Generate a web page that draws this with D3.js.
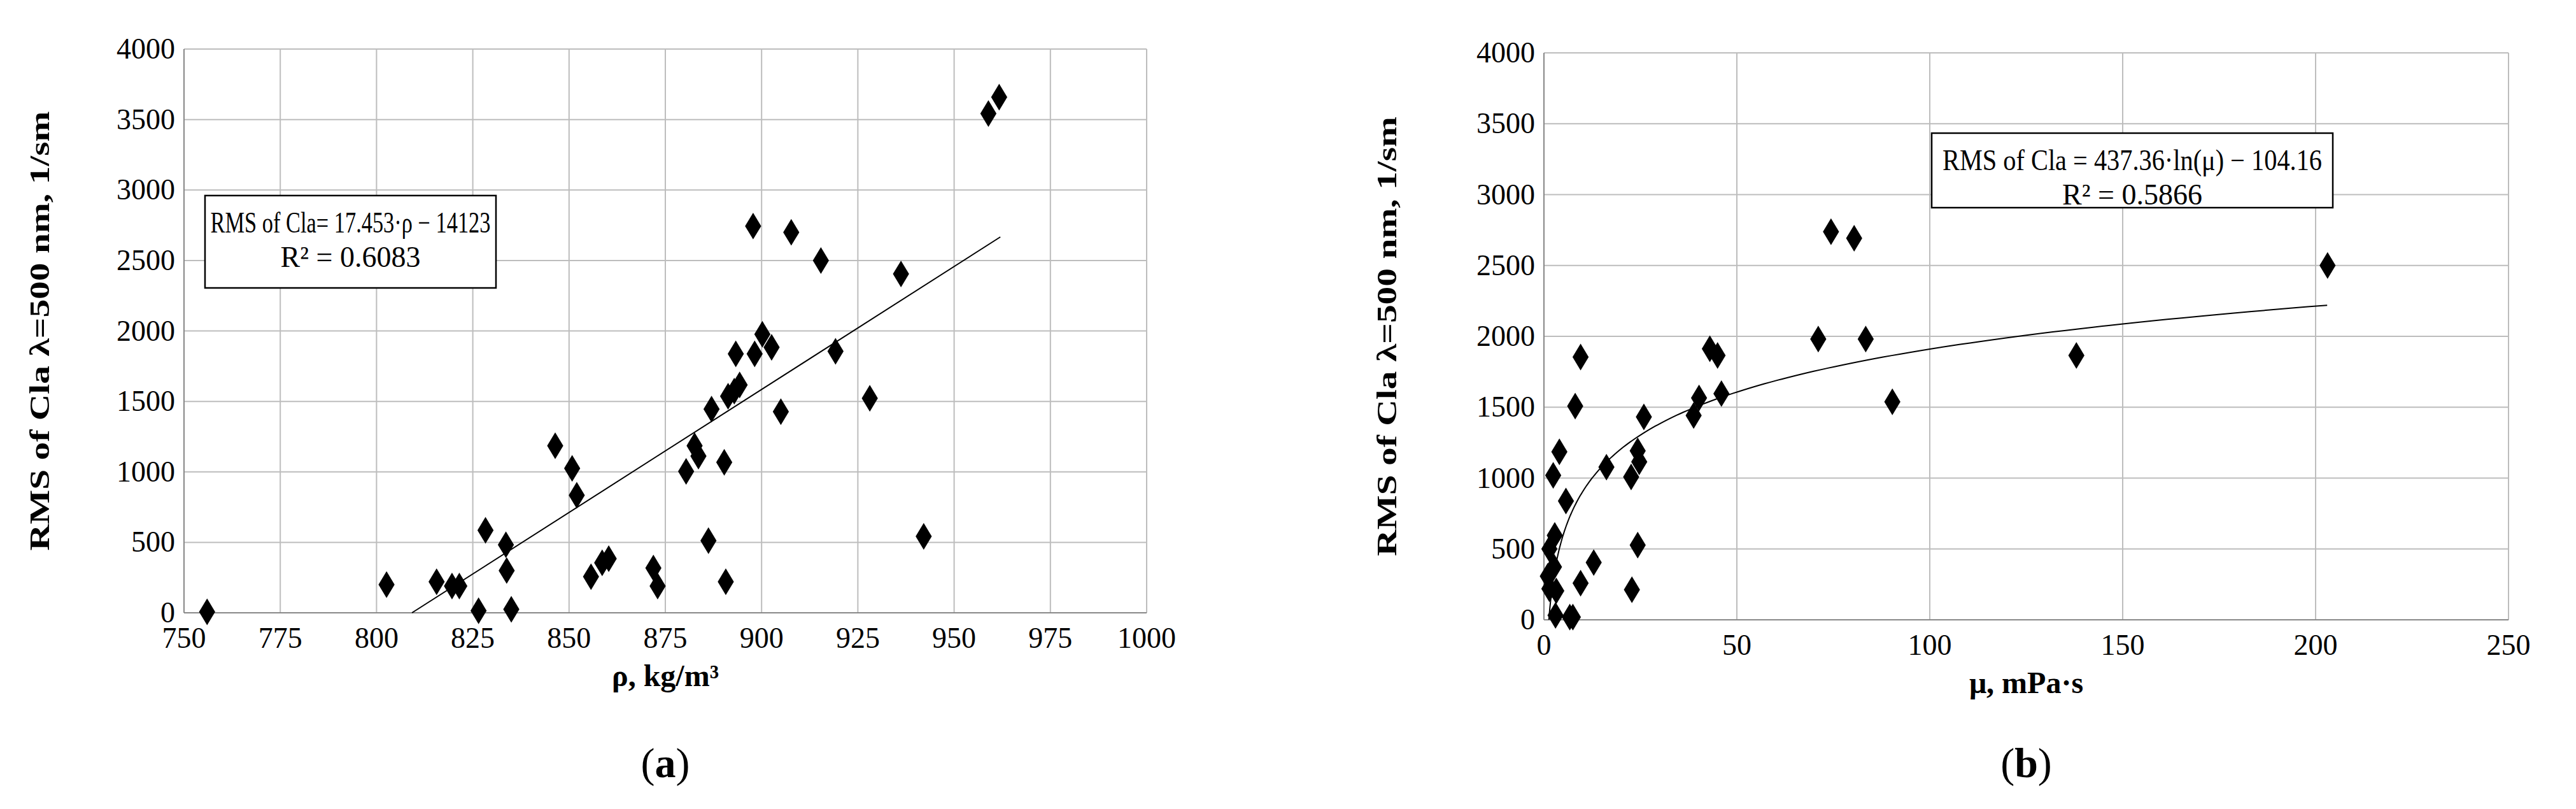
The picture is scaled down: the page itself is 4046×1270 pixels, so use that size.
<!DOCTYPE html><html><head><meta charset="utf-8">
<script src="https://cdn.jsdelivr.net/npm/d3@7"></script>
<style>body{margin:0;background:#fff}</style></head><body>
<svg id="c" width="4046" height="1270"></svg>
<script>
const rhoX=[756,802.6,815.6,819.6,821.5,826.5,828.3,833.6,833.8,835,846.4,850.8,852,855.7,858.6,860.3,871.9,873,880.4,882.6,883.6,886.2,887,890.3,890.7,891.3,892.9,894.3,893.3,897.8,898.2,900.2,902.6,905,907.7,915.4,919.2,928.1,936.2,942.1,958.9,961.7];
const rhoY=[7,200,220,190,190,15,585,483,300,25,1185,1025,834,256,355,384,318,190,1003,1185,1112,512,1445,1068,220,1537,1573,1617,1837,2744,1837,1976,1884,1427,2700,2499,1855,1522,2404,542,3542,3659];
const muX=[1.4,1,1.4,2.4,2.8,2.6,3.2,3,4,5.7,6.7,7.5,8.1,9.5,9.5,12.9,16.2,22.6,22.8,24.3,24.3,24.7,25.9,38.8,40.2,43,45,46,71.1,74.4,80.4,83.4,90.3,138,203.1];
const muY=[500,308,219,1019,596,373,204,31,1185,838,19,19,1508,1854,258,404,1077,1008,212,1192,527,1115,1431,1442,1565,1912,1865,1596,1981,2738,2692,1981,1538,1865,2500];
const yTicks=[0,500,1000,1500,2000,2500,3000,3500,4000];
const rhoTicks=[750,775,800,825,850,875,900,925,950,975,1000];
const muTicks=[0,50,100,150,200,250];
const svg=d3.select("#c");
const F="Liberation Serif, Times New Roman, serif";
function panel(o){
 const g=svg.append("g");
 const x=d3.scaleLinear().domain(o.xd).range([o.x0,o.x1]);
 const y=d3.scaleLinear().domain([0,4000]).range([o.y1,o.y0]);
 g.selectAll(".gx").data(o.xt).join("line").attr("x1",d=>x(d)).attr("x2",d=>x(d)).attr("y1",o.y0).attr("y2",o.y1).attr("stroke","#bdbdbd").attr("stroke-width",2);
 g.selectAll(".gy").data(yTicks).join("line").attr("x1",o.x0).attr("x2",o.x1).attr("y1",d=>y(d)).attr("y2",d=>y(d)).attr("stroke","#bdbdbd").attr("stroke-width",2);
 g.append("line").attr("x1",o.x0).attr("x2",o.x0).attr("y1",o.y0).attr("y2",o.y1).attr("stroke","#888").attr("stroke-width",2);
 g.append("line").attr("x1",o.x0).attr("x2",o.x1).attr("y1",o.y1).attr("y2",o.y1).attr("stroke","#888").attr("stroke-width",2);
 g.selectAll(".tx").data(o.xt).join("text").attr("x",d=>x(d)).attr("y",o.y1+55).attr("text-anchor","middle").attr("font-family",F).attr("font-size",46).text(d=>d);
 g.selectAll(".ty").data(yTicks).join("text").attr("x",o.x0-14).attr("y",d=>y(d)+15).attr("text-anchor","end").attr("font-family",F).attr("font-size",46).text(d=>d);
 g.append("path").attr("d",d3.line().x(d=>x(d[0])).y(d=>y(d[1]))(o.curve)).attr("fill","none").attr("stroke","#000").attr("stroke-width",2);
 const sym=d3.symbol().type(d3.symbolDiamond).size(420);
 g.selectAll(".p").data(o.xs.map((v,i)=>[v,o.ys[i]])).join("path").attr("d",sym).attr("transform",d=>`translate(${x(d[0])},${y(d[1])}) scale(1.15,1.1)`).attr("fill","#000");
 g.append("text").attr("x",(o.x0+o.x1)/2).attr("y",o.y1+115).attr("text-anchor","middle").attr("font-family",F).attr("font-weight","bold").attr("font-size",48).text(o.xl);
 g.append("text").attr("transform",`translate(${o.tx},${(o.y0+o.y1)/2}) rotate(-90)`).attr("text-anchor","middle").attr("font-family",F).attr("font-weight","bold").attr("font-size",44).attr("textLength",690).attr("lengthAdjust","spacingAndGlyphs").text("RMS of Cla  λ=500 nm, 1/sm");
 g.append("rect").attr("x",o.bx[0]).attr("y",o.bx[1]).attr("width",o.bx[2]).attr("height",o.bx[3]).attr("fill","#fff").attr("stroke","#000").attr("stroke-width",2.5);
 g.append("text").attr("x",o.bx[0]+o.bx[2]/2).attr("y",o.bx[1]+58).attr("text-anchor","middle").attr("font-family",F).attr("font-size",46).attr("textLength",o.tl).attr("lengthAdjust","spacingAndGlyphs").text(o.eq);
 g.append("text").attr("x",o.bx[0]+o.bx[2]/2).attr("y",o.bx[1]+112).attr("text-anchor","middle").attr("font-family",F).attr("font-size",46).text(o.r2);
 g.append("text").attr("x",(o.x0+o.x1)/2).attr("y",1220).attr("text-anchor","middle").attr("font-family",F).attr("font-size",66).html(o.lab);
}
const linCurve=[809.2,962].map(v=>[v,17.453*v-14123]);
const logCurve=d3.range(0,201).map(i=>{const v=1.27*Math.pow(203/1.27,i/200);return [v,437.36*Math.log(v)-104.16];});
panel({xd:[750,1000],xt:rhoTicks,x0:289,x1:1801,y0:77,y1:962,xs:rhoX,ys:rhoY,curve:linCurve,xl:"ρ, kg/m³",bx:[322,307,457,145],tl:440,tx:77,eq:"RMS of Cla= 17.453·ρ  − 14123",r2:"R² = 0.6083",lab:"(<tspan font-weight='bold'>a</tspan>)"});
panel({xd:[0,250],xt:muTicks,x0:2425,x1:3940,y0:83,y1:973,xs:muX,ys:muY,curve:logCurve,xl:"μ, mPa·s",bx:[3034,209,630,117],tl:596,tx:2193,eq:"RMS of Cla = 437.36·ln(μ)  − 104.16",r2:"R² = 0.5866",lab:"(<tspan font-weight='bold'>b</tspan>)"});
</script></body></html>
